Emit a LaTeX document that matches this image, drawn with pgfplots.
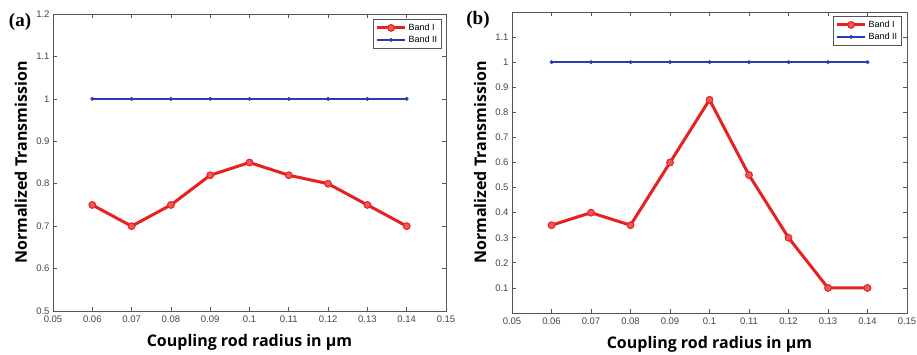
\documentclass[border=0pt]{standalone}
\usepackage{fontspec}
\setmainfont{Liberation Sans}
\newfontfamily\labfont{Open Sans}
\newfontfamily\serifb{Liberation Serif}
\usepackage{pgfplots}
\pgfplotsset{compat=1.18}
\definecolor{bandred}{RGB}{232,32,32}
\definecolor{bandblue}{RGB}{40,60,180}
\definecolor{axgray}{RGB}{85,85,85}
\definecolor{tickgray}{RGB}{70,70,70}
\pgfplotsset{
  panel/.style={
    scale only axis,
    xmin=0.05, xmax=0.15,
    xtick={0.05,0.06,0.07,0.08,0.09,0.1,0.11,0.12,0.13,0.14,0.15},
    /pgf/number format/fixed,
    /pgf/number format/precision=2,
    /pgf/number format/assume math mode=true,
    tick align=inside,
    major tick length=4pt,
    axis line style={axgray, line width=0.9pt},
    tick style={axgray, line width=0.7pt},
    tick label style={font=\fontsize{9.5}{10}\selectfont, text=tickgray},
    xticklabel style={yshift=-1pt},
    label style={font=\labfont\bfseries\fontsize{16}{18}\selectfont},
    xlabel={Coupling rod radius in µm},
    ylabel={Normalized Transmission},
    xlabel style={at={(axis description cs:0.5,0)}, anchor=center, yshift=-31pt},
    ylabel style={at={(axis description cs:0,0.5)}, anchor=center, yshift=32pt},
    legend style={font=\fontsize{9}{11}\selectfont, draw=axgray, line width=0.8pt,
      anchor=north east, inner sep=2.5pt, row sep=0pt},
    legend cell align=left,
    legend image code/.code={\draw[mark repeat=2,mark phase=2] plot coordinates {(0pt,0pt)(14pt,0pt)(28pt,0pt)};},
  },
  red/.style={bandred, line width=3pt, mark=*, mark size=3.4pt,
    mark options={fill=bandred!75!white, draw=bandred, line width=1pt}},
  blue/.style={bandblue, line width=2.6pt, mark=*, mark size=1.8pt,
    mark options={fill=bandblue, draw=bandblue, line width=0.4pt}},
}
\begin{document}
\begin{tikzpicture}[x=1pt,y=1pt]
\useasboundingbox (0,0) rectangle (917,354);
\fill[white] (0,0) rectangle (917,354);
% panel (a)
\begin{axis}[panel, at={(53pt,43pt)}, anchor=south west, width=393pt, height=297pt,
  ymin=0.5, ymax=1.2, ytick={0.5,0.6,0.7,0.8,0.9,1,1.1,1.2},
  legend style={at={(rel axis cs:1,1)}, xshift=-4pt, yshift=-5pt}]
\addplot[red] coordinates {(0.06,0.75)(0.07,0.70)(0.08,0.75)(0.09,0.82)(0.10,0.85)(0.11,0.82)(0.12,0.80)(0.13,0.75)(0.14,0.70)};
\addlegendentry{Band I}
\addplot[blue] coordinates {(0.06,1)(0.07,1)(0.08,1)(0.09,1)(0.10,1)(0.11,1)(0.12,1)(0.13,1)(0.14,1)};
\addlegendentry{Band II}
\end{axis}
% panel (b)
\begin{axis}[panel, at={(512pt,41pt)}, anchor=south west, width=395pt, height=301pt,
  ymin=0, ymax=1.2, ytick={0.1,0.2,0.3,0.4,0.5,0.6,0.7,0.8,0.9,1,1.1},
  legend style={at={(rel axis cs:1,1)}, xshift=-5pt, yshift=-4pt}]
\addplot[red] coordinates {(0.06,0.35)(0.07,0.40)(0.08,0.35)(0.09,0.60)(0.10,0.85)(0.11,0.55)(0.12,0.30)(0.13,0.10)(0.14,0.10)};
\addlegendentry{Band I}
\addplot[blue] coordinates {(0.06,1)(0.07,1)(0.08,1)(0.09,1)(0.10,1)(0.11,1)(0.12,1)(0.13,1)(0.14,1)};
\addlegendentry{Band II}
\end{axis}
\node[font=\serifb\bfseries\fontsize{19}{21}\selectfont] at (20,332) {(a)};
\node[font=\serifb\bfseries\fontsize{19}{21}\selectfont] at (478,334) {(b)};
\end{tikzpicture}
\end{document}
